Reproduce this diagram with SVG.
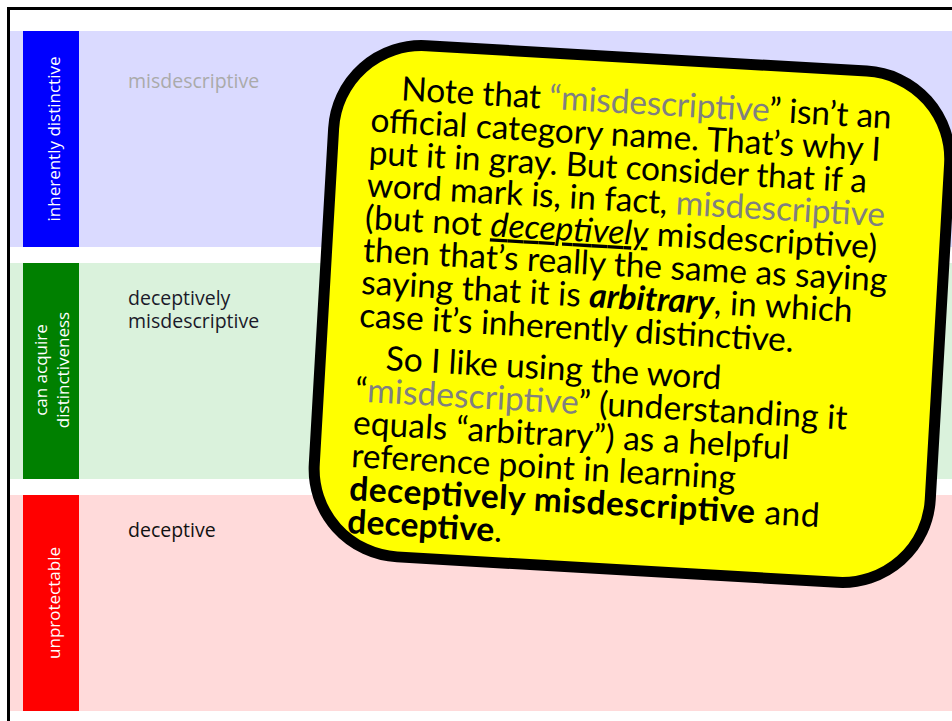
<svg xmlns="http://www.w3.org/2000/svg" width="952" height="721" viewBox="0 0 952 721">
<style>
.bar-label{font-family:"Open Sans","Liberation Sans",sans-serif;font-size:17px;fill:#ffffff;text-anchor:middle}
.cat{font-family:"Open Sans","Liberation Sans",sans-serif;font-size:19.5px}
.note{font-family:Lato,"Open Sans","Liberation Sans",sans-serif;font-size:33.5px;fill:#000000}
.gray{fill:#808080}
.b{font-weight:bold}
</style>
<rect x="0" y="0" width="952" height="721" fill="#ffffff"/>
<rect x="8.5" y="8.5" width="1000" height="1000" fill="#ffffff" stroke="#000000" stroke-width="3"/>
<g id="row-inherently-distinctive">
  <rect x="10" y="31" width="942" height="216" fill="#dadaff"/>
  <rect x="23" y="31" width="56" height="216" fill="#0000ff"/>
  <text class="bar-label" transform="translate(60,139) rotate(-90)">inherently distinctive</text>
  <text class="cat" x="128" y="88" fill="#aaaaaa">misdescriptive</text>
</g>
<g id="row-can-acquire">
  <rect x="10" y="263" width="942" height="216" fill="#daf2dc"/>
  <rect x="23" y="263" width="56" height="216" fill="#008000"/>
  <text class="bar-label" transform="translate(47,370) rotate(-90)">can acquire</text>
  <text class="bar-label" transform="translate(69,370) rotate(-90)">distinctiveness</text>
  <text class="cat" x="128" y="305" fill="#1a1a2a">deceptively</text>
  <text class="cat" x="128" y="328" fill="#1a1a2a">misdescriptive</text>
</g>
<g id="row-unprotectable">
  <rect x="10" y="495" width="942" height="216" fill="#ffdada"/>
  <rect x="23" y="495" width="56" height="216" fill="#ff0000"/>
  <text class="bar-label" transform="translate(60,603) rotate(-90)">unprotectable</text>
  <text class="cat" x="128" y="537" fill="#111111">deceptive</text>
</g>
<g id="note" transform="translate(632,313) rotate(3.3)">
  <rect x="-308.5" y="-255" width="617" height="512" rx="88" ry="88" fill="#ffff00" stroke="#000000" stroke-width="11"/>
  <text class="note" x="-243" y="-199" textLength="491">Note that <tspan class="gray">“misdescriptive</tspan>” isn’t an</text>
  <text class="note" x="-272" y="-166" textLength="511">official category name. That’s why I</text>
  <text class="note" x="-272" y="-133.5" textLength="499">put it in gray. But consider that if a</text>
  <text class="note" x="-272" y="-101" textLength="519">word mark is, in fact, <tspan class="gray">misdescriptive</tspan></text>
  <text class="note" x="-272" y="-68.5" textLength="513">(but not <tspan font-style="italic" text-decoration="underline">deceptively</tspan> misdescriptive)</text>
  <text class="note" x="-272" y="-36" textLength="525">then that’s really the same as saying</text>
  <text class="note" x="-272" y="-3.5" textLength="492">saying that it is <tspan class="b" font-style="italic">arbitrary</tspan>, in which</text>
  <text class="note" x="-272" y="29.5" textLength="435">case it’s inherently distinctive.</text>
  <text class="note" x="-243" y="71" textLength="336">So I like using the word</text>
  <text class="note" x="-272" y="104" textLength="493">“<tspan class="gray">misdescriptive</tspan>” (understanding it</text>
  <text class="note" x="-272" y="137" textLength="437">equals “arbitrary”) as a helpful</text>
  <text class="note" x="-272" y="170" textLength="385">reference point in learning</text>
  <text class="note" x="-272" y="203" textLength="471"><tspan class="b">deceptively misdescriptive</tspan> and</text>
  <text class="note" x="-272" y="236" textLength="155"><tspan class="b">deceptive</tspan>.</text>
</g>
</svg>
